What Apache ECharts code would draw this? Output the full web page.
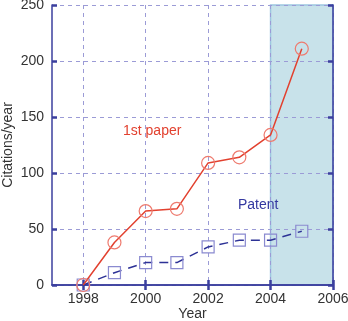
<!DOCTYPE html>
<html>
<head>
<meta charset="utf-8">
<script src="https://cdn.jsdelivr.net/npm/echarts@6/dist/echarts.min.js"></script>
<style>
  html, body { margin: 0; padding: 0; background: #fff; }
  #chart { width: 348px; height: 321px; }
</style>
</head>
<body>
<div id="chart"></div>
<script>
const years = [1998, 1999, 2000, 2001, 2002, 2003, 2004, 2005];
const paperCites = [0, 38, 66, 68, 109, 114, 134, 211];
const patentCites = [0, 11, 20, 20, 34, 40, 40, 48];
const yearTicks = [1998, 2000, 2002, 2004, 2006];
const shadeRange = [2004, 2006];

const frame = '#3b3f9e';
const gridColor = '#9b9bd6';
const font = 'Liberation Sans, Arial, sans-serif';

const chart = echarts.init(document.getElementById('chart'));

// axes sit above the shaded band, the lines above the axes
const xBase = {
  type: 'value', min: 1997, max: 2006, z: 3,
  axisLine: { show: true, lineStyle: { color: frame, width: 1.5 } },
  axisTick: { show: true, inside: true, length: 5, customValues: yearTicks, lineStyle: { color: frame, width: 2.5 } },
};
const yBase = {
  type: 'value', min: 0, max: 250, interval: 50, z: 3,
  axisLine: { show: true, lineStyle: { color: frame, width: 1.5 } },
  axisTick: { show: true, inside: true, length: 5, lineStyle: { color: frame, width: 2.5 } },
};

chart.setOption({
  animation: false,
  grid: { left: 52, right: 15, top: 5, bottom: 36, containLabel: false, outerBoundsMode: 'none' },
  xAxis: [
    Object.assign({}, xBase, {
      position: 'bottom',
      name: 'Year', nameLocation: 'middle', nameGap: 22, nameMoveOverlap: false,
      nameTextStyle: { color: '#333', fontSize: 14, fontFamily: font },
      axisLabel: { customValues: yearTicks, formatter: v => String(v), color: '#333', fontSize: 14, fontFamily: font, margin: 7 },
      splitLine: { show: true, lineStyle: { color: gridColor, type: [4, 4], width: 1 } },
    }),
    Object.assign({}, xBase, {
      position: 'top',
      axisLabel: { show: false },
      splitLine: { show: false },
    }),
  ],
  yAxis: [
    Object.assign({}, yBase, {
      position: 'left',
      name: 'Citations/year', nameLocation: 'middle', nameGap: 37, nameMoveOverlap: false,
      nameTextStyle: { color: '#333', fontSize: 14, fontFamily: font },
      axisLabel: { color: '#333', fontSize: 14, fontFamily: font, margin: 8 },
      splitLine: { show: true, lineStyle: { color: gridColor, type: [4, 4], width: 1 } },
    }),
    Object.assign({}, yBase, {
      position: 'right',
      axisLabel: { show: false },
      splitLine: { show: false },
    }),
  ],
  series: [
    {
      name: 'shade',
      type: 'line',
      z: 1,
      data: [],
      markArea: {
        silent: true,
        itemStyle: { color: '#c8e2ea', borderColor: '#9cc6e0', borderWidth: 1.5 },
        data: [[{ xAxis: shadeRange[0], yAxis: 0 }, { xAxis: shadeRange[1], yAxis: 250 }]],
      },
    },
    {
      name: 'Patent',
      type: 'line',
      data: years.map((y, i) => [y, patentCites[i]]),
      z: 4,
      lineStyle: { color: '#2d3296', width: 1.5, type: [9, 7] },
      symbol: 'rect', symbolSize: 12,
      itemStyle: { color: 'transparent', borderColor: '#8a8ad0', borderWidth: 1.2 },
    },
    {
      name: '1st paper',
      type: 'line',
      data: years.map((y, i) => [y, paperCites[i]]),
      z: 5,
      lineStyle: { color: '#e2412f', width: 1.5 },
      symbol: 'circle', symbolSize: 13,
      itemStyle: { color: 'transparent', borderColor: '#ee7a6e', borderWidth: 1.2 },
    },
  ],
  graphic: [
    { type: 'text', z: 100, left: 123, top: 124, style: { text: '1st paper', fill: '#e2412f', font: '14px ' + font } },
    { type: 'text', z: 100, left: 238, top: 198, style: { text: 'Patent', fill: '#3438a0', font: '14px ' + font } },
  ],
});
</script>
</body>
</html>
